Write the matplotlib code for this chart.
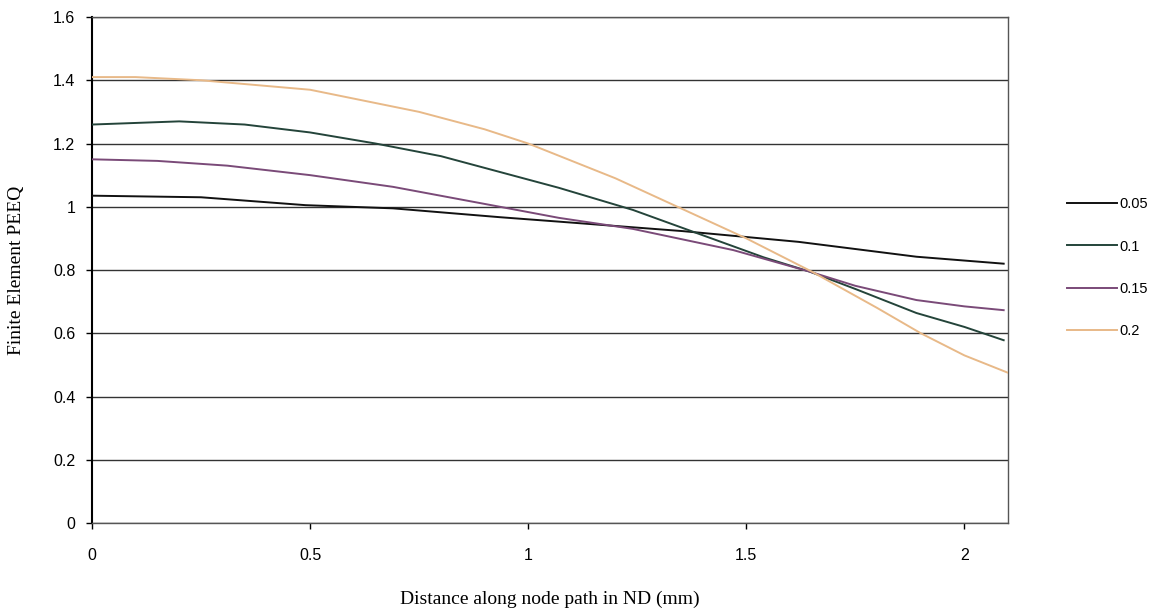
import matplotlib
matplotlib.use("Agg")
import matplotlib.pyplot as plt

# Datos (distancia en mm, PEEQ)
x_005 = [0, 0.25, 0.49, 0.69, 0.935, 1.07, 1.354, 1.62, 1.89, 2.09]
y_005 = [1.035, 1.03, 1.005, 0.995, 0.967, 0.953, 0.923, 0.889, 0.842, 0.82]

x_01 = [0, 0.2, 0.35, 0.5, 0.65, 0.8, 0.935, 1.07, 1.24, 1.4, 1.54, 1.645, 1.75, 1.89, 2.0, 2.09]
y_01 = [1.26, 1.27, 1.26, 1.235, 1.20, 1.16, 1.11, 1.06, 0.99, 0.91, 0.84, 0.795, 0.74, 0.664, 0.62, 0.578]

x_015 = [0, 0.15, 0.31, 0.5, 0.69, 0.935, 1.07, 1.24, 1.47, 1.645, 1.75, 1.89, 2.0, 2.09]
y_015 = [1.15, 1.145, 1.13, 1.10, 1.063, 1.00, 0.965, 0.93, 0.863, 0.795, 0.75, 0.705, 0.685, 0.673]

x_02 = [0, 0.1, 0.25, 0.5, 0.75, 0.9, 1.0, 1.2, 1.35, 1.5, 1.65, 1.8, 1.9, 2.0, 2.1]
y_02 = [1.41, 1.41, 1.40, 1.37, 1.30, 1.245, 1.20, 1.09, 0.995, 0.90, 0.795, 0.68, 0.60, 0.53, 0.475]

labels = ["0.05", "0.1", "0.15", "0.2"]
colors = ["#111111", "#24443a", "#7a4a78", "#e8b988"]

fig = plt.figure(figsize=(11.58, 6.14), dpi=100)
ax = fig.add_axes([0.0794, 0.1482, 0.7911, 0.8241])

series = [(x_005, y_005), (x_01, y_01), (x_015, y_015), (x_02, y_02)]
for (xs, ys), lab, col in zip(series, labels, colors):
    ax.plot(xs, ys, color=col, lw=1.4, label=lab, zorder=3)

ax.set_xlim(0, 2.1)
ax.set_ylim(0, 1.6)
ax.set_xticks([0, 0.5, 1, 1.5, 2])
ax.set_xticklabels(["0", "0.5", "1", "1.5", "2"])
ax.set_yticks([0, 0.2, 0.4, 0.6, 0.8, 1.0, 1.2, 1.4, 1.6])
ax.set_yticklabels(["0", "0.2", "0.4", "0.6", "0.8", "1", "1.2", "1.4", "1.6"])

for lab in ax.get_xticklabels() + ax.get_yticklabels():
    lab.set_fontfamily("Liberation Sans")
    lab.set_fontsize(11.5)

ax.yaxis.grid(True, color="#333333", lw=1.0)
ax.set_axisbelow(True)
ax.tick_params(axis="y", direction="out", length=4, width=1, color="black", pad=8)
ax.tick_params(axis="x", direction="out", length=4, width=1, color="black", pad=14)
ax.spines["left"].set_color("black")
ax.spines["left"].set_linewidth(1.5)
for s in ["right", "top", "bottom"]:
    ax.spines[s].set_color("#555555")
    ax.spines[s].set_linewidth(1.0)

ax.set_xlabel("Distance along node path in ND (mm)", fontfamily="Liberation Serif",
              fontsize=14, labelpad=20)
ax.set_ylabel("Finite Element PEEQ", fontfamily="Liberation Serif",
              fontsize=14, labelpad=20)

ax.legend(loc="upper left", bbox_to_anchor=(1054 / 1158, 1 - 184 / 614),
          bbox_transform=fig.transFigure, frameon=False,
          prop={"family": "Liberation Sans", "size": 10.5},
          handlelength=3.4, handletextpad=0.15, labelspacing=1.95)

plt.savefig("out.png", dpi=100)
plt.close()
